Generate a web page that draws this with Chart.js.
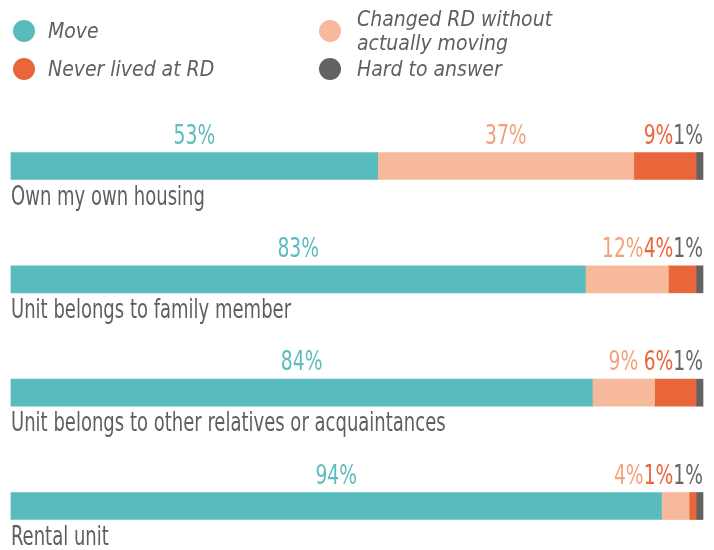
<!DOCTYPE html>
<html>
<head>
<meta charset="utf-8">
<script src="https://cdn.jsdelivr.net/npm/chart.js@4.4.1/dist/chart.umd.min.js"></script>
<style>
html,body{margin:0;padding:0;background:#fff;}
#wrap{width:714px;height:550px;position:relative;}
</style>
</head>
<body>
<div id="wrap"><canvas id="c" width="714" height="550"></canvas></div>
<script>
const categories = ["Own my own housing", "Unit belongs to family member", "Unit belongs to other relatives or acquaintances", "Rental unit"];
const seriesNames = ["Move", "Changed RD without actually moving", "Never lived at RD", "Hard to answer"];
const moveValues = [53, 83, 84, 94];
const changedValues = [37, 12, 9, 4];
const neverValues = [9, 4, 6, 1];
const hardValues = [1, 1, 1, 1];

const barColors = ["#58BBBD", "#F7B99B", "#E9663A", "#626262"];
const labelColors = ["#5BBDC0", "#F3A17D", "#E9663A", "#666666"];
const FONT = '"Liberation Sans Narrow", "DejaVu Sans Condensed", "Roboto Condensed", Roboto, sans-serif';

const datasets = [moveValues, changedValues, neverValues, hardValues].map((d, i) => ({
  label: seriesNames[i],
  data: d,
  backgroundColor: barColors[i],
  borderWidth: 0,
  barThickness: 27,
  clip: false
}));

function drawScaled(ctx, text, x, y, sx) {
  ctx.save();
  ctx.translate(x, y);
  ctx.scale(sx, 1);
  ctx.fillText(text, 0, 0);
  ctx.restore();
}

const VAL_SX = 0.8, CAT_SX = 0.77;

const labelPlugin = {
  id: 'labels',
  afterDatasetsDraw(chart) {
    const ctx = chart.ctx;
    const right = chart.chartArea.right;
    ctx.save();
    ctx.textBaseline = 'alphabetic';
    ctx.textAlign = 'left';
    categories.forEach((cat, ci) => {
      const items = [];
      chart.data.datasets.forEach((ds, di) => {
        const el = chart.getDatasetMeta(di).data[ci];
        const left = Math.min(el.x, el.base), r = Math.max(el.x, el.base);
        items.push({text: ds.data[ci] + '%', center: (left + r) / 2, color: labelColors[di], top: el.y - el.height / 2, bottom: el.y + el.height / 2});
      });
      ctx.font = '26px ' + FONT;
      let limit = right;
      for (let i = items.length - 1; i >= 0; i--) {
        const it = items[i];
        const w = ctx.measureText(it.text).width * VAL_SX;
        let rx = Math.min(it.center + w / 2, limit);
        it.x = rx - w;
        limit = it.x;
      }
      items.forEach(it => {
        ctx.fillStyle = it.color;
        drawScaled(ctx, it.text, it.x, it.top - 9, VAL_SX);
      });
      ctx.fillStyle = '#5f5f5f';
      ctx.font = '26px ' + FONT;
      drawScaled(ctx, cat, 11, items[0].bottom + 25, CAT_SX);
    });
    // legend
    const leg = [
      {c: barColors[0], cx: 24, cy: 31, lines: ["Move"], tx: 48, ty: [38]},
      {c: barColors[2], cx: 24, cy: 69, lines: ["Never lived at RD"], tx: 48, ty: [76]},
      {c: barColors[1], cx: 330, cy: 31, lines: ["Changed RD without", "actually moving"], tx: 357, ty: [26, 50]},
      {c: barColors[3], cx: 330, cy: 69, lines: ["Hard to answer"], tx: 357, ty: [76]}
    ];
    leg.forEach(l => {
      ctx.fillStyle = l.c;
      ctx.beginPath();
      ctx.arc(l.cx, l.cy, 11, 0, Math.PI * 2);
      ctx.fill();
      ctx.fillStyle = '#5f5f5f';
      ctx.font = 'italic 21px ' + FONT;
      l.lines.forEach((t, k) => ctx.fillText(t, l.tx, l.ty[k]));
    });
    ctx.restore();
  }
};

new Chart(document.getElementById('c'), {
  type: 'bar',
  data: {labels: categories, datasets},
  options: {
    indexAxis: 'y',
    responsive: false,
    animation: false,
    devicePixelRatio: 1,
    layout: {padding: {top: 166, bottom: 44, left: 11, right: 11}},
    plugins: {legend: {display: false}, tooltip: {enabled: false}},
    scales: {
      x: {stacked: true, min: 0, max: 100, display: false},
      y: {stacked: true, display: false, offset: false, grid: {display: false}}
    }
  },
  plugins: [labelPlugin]
});
</script>
</body>
</html>
